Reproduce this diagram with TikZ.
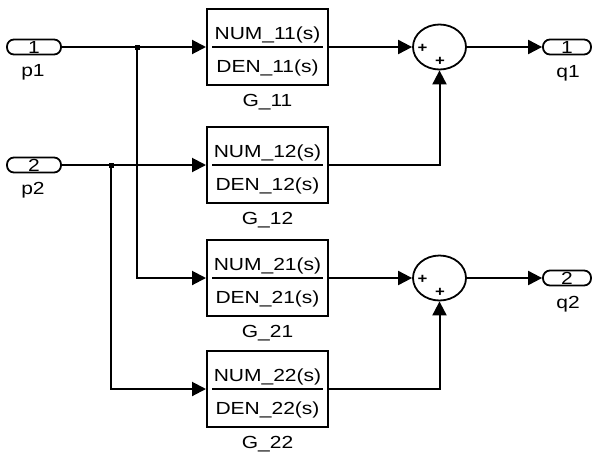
\documentclass[tikz,border=0pt]{standalone}
\usepackage{fontspec}
\setmainfont{Liberation Sans}[FakeStretch=1.2]
\usetikzlibrary{arrows.meta,shapes.geometric}
\begin{document}
\begin{tikzpicture}[x=1pt,y=-1pt,
  wire/.style={line width=2pt},
  arr/.style={wire,-{Triangle[length=14pt,width=14pt]}},
  tfbox/.style={draw,line width=2pt,minimum width=121pt,minimum height=76pt,inner sep=0},
  port/.style={draw,line width=1.8pt,rounded corners=7pt,minimum height=15pt,inner sep=0,font=\fontsize{17.5}{17.5}\selectfont},
  sumnode/.style={draw,line width=1.8pt,ellipse,minimum width=53pt,minimum height=45pt,inner sep=0},
  lbl/.style={font=\fontsize{17.5}{17.5}\selectfont,inner sep=0,anchor=base},
  tf/.style={font=\fontsize{17.5}{17.5}\selectfont,inner sep=0,anchor=base},
  plus/.style={font=\fontsize{14}{14}\selectfont\bfseries,inner sep=0},
  dot/.style={fill,minimum size=5pt,inner sep=0}
]
\useasboundingbox (0,0) rectangle (593,453);
% inports
\node[port,minimum width=54pt] (p1) at (34,47) {1};
\node[lbl] (p1l) at (33,76) {p1};
\node[port,minimum width=54pt] (p2) at (34,165) {2};
\node[lbl] (p2l) at (33,194) {p2};
% outports
\node[port,minimum width=48pt] (q1) at (567,47) {1};
\node[lbl] (q1l) at (568,77) {q1};
\node[port,minimum width=48pt] (q2) at (567,278) {2};
\node[lbl] (q2l) at (568,308) {q2};
% transfer function blocks
\foreach \n/\y/\i in {G11/47/11, G12/165/12, G21/278/21, G22/389/22} {
  \node[tfbox] (\n) at (267.5,\y) {};
  \draw[line width=1.8pt] ([xshift=6pt]\n.west) -- ([xshift=-6pt]\n.east);
  \node[tf] (\n num) at (267.5,{\y-7.7}) {NUM\_\i(s)};
  \node[tf] (\n den) at (267.5,{\y+25.7}) {DEN\_\i(s)};
  \node[lbl] (\n lab) at (267.5,{\y+59}) {G\_\i};
}
% sums
\node[sumnode] (s1) at (439.5,47) {};
\node[plus] (s1a) at (422.5,48) {+};
\node[plus] (s1b) at (440,61) {+};
\node[sumnode] (s2) at (439.5,278) {};
\node[plus] (s2a) at (422.5,279) {+};
\node[plus] (s2b) at (440,292) {+};
% junctions
\coordinate (j1) at (137,47);
\coordinate (j2) at (111,165);
% connectors
\draw[arr] (p1.east) -- (G11.west);
\draw[arr] (j1) |- (G21.west);
\draw[arr] (p2.east) -- (G12.west);
\draw[arr] (j2) |- (G22.west);
\node[dot] (d1) at (j1) {};
\node[dot] (d2) at (j2) {};
\draw[arr] (G11.east) -- (s1.west);
\draw[arr] (G12.east) -| (s1.south);
\draw[arr] (s1.east) -- (q1.west);
\draw[arr] (G21.east) -- (s2.west);
\draw[arr] (G22.east) -| (s2.south);
\draw[arr] (s2.east) -- (q2.west);
\end{tikzpicture}
\end{document}
